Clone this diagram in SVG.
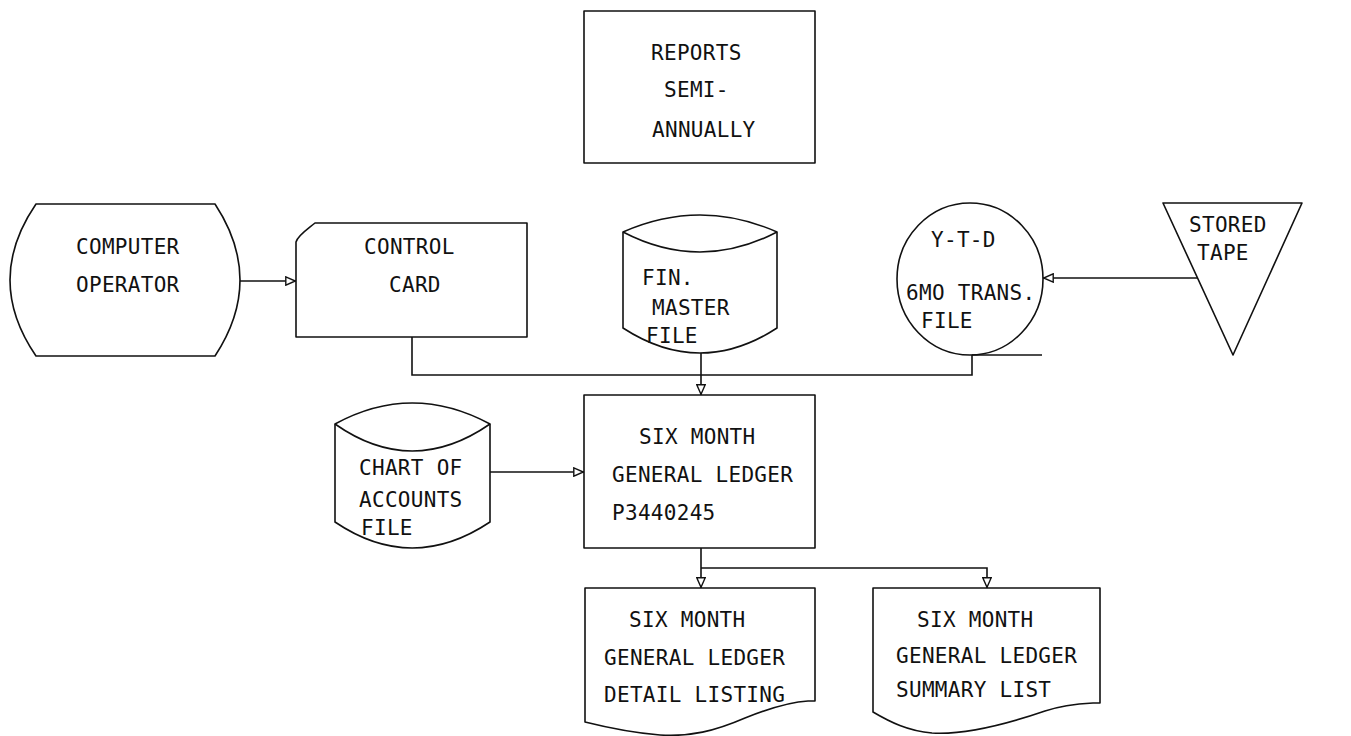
<svg xmlns="http://www.w3.org/2000/svg" width="1351" height="736" viewBox="0 0 1351 736">
  <style>
    .shape { fill: #ffffff; stroke: #111111; stroke-width: 1.6; stroke-linejoin: round; }
    .line { fill: none; stroke: #111111; stroke-width: 1.6; }
    .label { font-family: "DejaVu Sans Mono", "Liberation Mono", monospace; font-size: 21px; letter-spacing: 0.3px; fill: #111111; }
  </style>
  <defs>
    <marker id="arrow" viewBox="0 0 11 10" refX="11" refY="5" markerWidth="11" markerHeight="10" markerUnits="userSpaceOnUse" orient="auto">
      <path d="M0.8,0.8 L10.3,5 L0.8,9.2 Z" fill="#ffffff" stroke="#111111" stroke-width="1.4"/>
    </marker>
  </defs>
  <rect width="1351" height="736" fill="#ffffff"/>

  <!-- header box -->
  <g id="reports">
    <rect class="shape" x="584" y="11" width="231" height="152"/>
    <text class="label" x="651" y="60">REPORTS</text>
    <text class="label" x="664" y="97">SEMI-</text>
    <text class="label" x="652" y="137">ANNUALLY</text>
  </g>

  <!-- terminal -->
  <g id="computer-operator">
    <path class="shape" d="M36,204 H215 Q265,280 215,356 H36 Q-16,280 36,204 Z"/>
    <text class="label" x="76" y="254">COMPUTER</text>
    <text class="label" x="76" y="292">OPERATOR</text>
  </g>

  <!-- punched card -->
  <g id="control-card">
    <path class="shape" d="M296,242 C298,235 308,229 315,223 H527 V337 H296 Z"/>
    <text class="label" x="364" y="254">CONTROL</text>
    <text class="label" x="389" y="292">CARD</text>
  </g>

  <!-- disk file -->
  <g id="fin-master-file">
    <path class="shape" d="M623,232 Q700,198 777,232 V328 Q700,378 623,328 Z"/>
    <path class="line" d="M623,232 Q700,272 777,232"/>
    <text class="label" x="642" y="285">FIN.</text>
    <text class="label" x="652" y="315">MASTER</text>
    <text class="label" x="646" y="343">FILE</text>
  </g>

  <!-- magnetic tape -->
  <g id="ytd-trans-file">
    <ellipse class="shape" cx="970" cy="279" rx="73" ry="76"/>
    <path class="line" d="M972,355 H1042"/>
    <text class="label" x="931" y="247">Y-T-D</text>
    <text class="label" x="906" y="300">6MO TRANS.</text>
    <text class="label" x="921" y="328">FILE</text>
  </g>

  <!-- offline storage -->
  <g id="stored-tape">
    <path class="shape" d="M1163,203 H1302 L1233,355 Z"/>
    <text class="label" x="1189" y="232">STORED</text>
    <text class="label" x="1197" y="260">TAPE</text>
  </g>

  <!-- disk file -->
  <g id="chart-of-accounts">
    <path class="shape" d="M335,424 Q412,382 490,424 V522 Q412,574 335,522 Z"/>
    <path class="line" d="M335,424 Q412,478 490,424"/>
    <text class="label" x="359" y="475">CHART OF</text>
    <text class="label" x="359" y="507">ACCOUNTS</text>
    <text class="label" x="361" y="535">FILE</text>
  </g>

  <!-- process -->
  <g id="general-ledger-run">
    <rect class="shape" x="584" y="395" width="231" height="153"/>
    <text class="label" x="639" y="444">SIX MONTH</text>
    <text class="label" x="612" y="482">GENERAL LEDGER</text>
    <text class="label" x="612" y="520">P3440245</text>
  </g>

  <!-- printed documents -->
  <g id="detail-listing">
    <path class="shape" d="M585,588 H815 V701 H808 C790,702 770,708 745,718 C715,731 690,737 660,735 C635,733 605,727 585,722 Z"/>
    <text class="label" x="629" y="627">SIX MONTH</text>
    <text class="label" x="604" y="665">GENERAL LEDGER</text>
    <text class="label" x="604" y="702">DETAIL LISTING</text>
  </g>

  <g id="summary-list">
    <path class="shape" d="M873,588 H1100 V703 H1093 C1075,704 1060,706 1045,711 C1010,723 965,735 932,733 C908,731 890,722 873,712 Z"/>
    <text class="label" x="917" y="627">SIX MONTH</text>
    <text class="label" x="896" y="663">GENERAL LEDGER</text>
    <text class="label" x="896" y="697">SUMMARY LIST</text>
  </g>

  <g id="connectors">
    <path class="line" d="M240,281 H296" marker-end="url(#arrow)"/>
    <path class="line" d="M412,337 V375 H972 V355"/>
    <path class="line" d="M701,353 V395" marker-end="url(#arrow)"/>
    <path class="line" d="M1198,278 H1043" marker-end="url(#arrow)"/>
    <path class="line" d="M490,472 H584" marker-end="url(#arrow)"/>
    <path class="line" d="M701,548 V588" marker-end="url(#arrow)"/>
    <path class="line" d="M701,568 H987 V588" marker-end="url(#arrow)"/>
  </g>
</svg>
